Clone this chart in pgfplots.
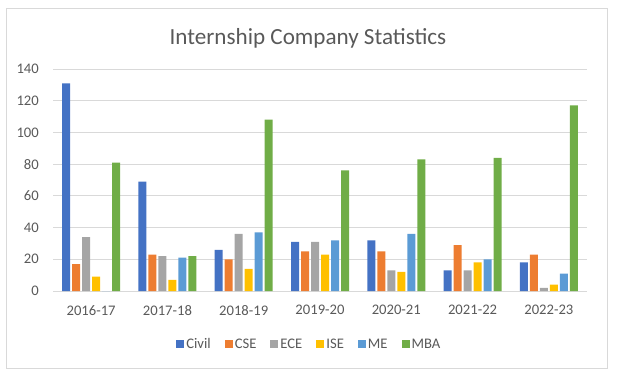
\documentclass[border=0pt]{standalone}
\usepackage{pgfplots}
\pgfplotsset{compat=1.18}
\usepackage{fontspec}
\setmainfont{Carlito}
\definecolor{cCivil}{HTML}{4472C4}
\definecolor{cCSE}{HTML}{ED7D31}
\definecolor{cECE}{HTML}{A5A5A5}
\definecolor{cISE}{HTML}{FFC000}
\definecolor{cME}{HTML}{5B9BD5}
\definecolor{cMBA}{HTML}{70AD47}
\definecolor{txtc}{HTML}{595959}
\definecolor{gridc}{HTML}{D9D9D9}
\begin{document}
\begin{tikzpicture}[x=1bp,y=1bp]
\path[use as bounding box] (0,0) rectangle (618,376);
\draw[gridc,line width=0.75bp] (6,8) rectangle (607,368);
\node[text=txtc,font=\fontsize{23.2}{26}\selectfont] at (308,338) {Internship Company Statistics};
\begin{axis}[
  at={(53bp,85bp)}, anchor=south west,
  scale only axis, width=534bp, height=222bp,
  ybar=2bp, bar width=8bp,
  xmin=-0.5, xmax=6.5, ymin=0, ymax=140,
  xtick={0,1,2,3,4,5,6},
  xticklabels={2016-17,2017-18,2018-19,2019-20,2020-21,2021-22,2022-23},
  ytick={0,20,40,60,80,100,120,140},
  axis x line*=bottom, axis y line*=left,
  x axis line style={draw=gridc,line width=0.75bp,-},
  y axis line style={draw=none,-},
  xmajorgrids=false, xminorgrids=false, ymajorgrids=true,
  major x grid style={draw=none}, minor x grid style={draw=none},
  major y grid style={draw=gridc,line width=0.75bp},
  xtick style={draw=none}, ytick style={draw=none},
  major tick length=0pt, minor tick num=0,
  tick label style={text=txtc,font=\fontsize{14.7}{16}\selectfont,inner sep=0pt},
  yticklabel style={anchor=east,xshift=-14bp},
  xticklabel style={anchor=north,yshift=-14bp},
  /pgf/number format/assume math mode=true,
  legend columns=6,
  legend style={draw=none,fill=none,at={(0.48,-0.239)},anchor=center,
    font=\fontsize{14.7}{16}\selectfont,text=txtc,
    /tikz/every even column/.append style={column sep=12bp},
    inner sep=0pt},
  legend image code/.code={\fill[#1] (0bp,-4bp) rectangle (8bp,4bp);},
  clip=false,
]
\addplot[fill=cCivil,draw=none] coordinates {(0,131) (1,69) (2,26) (3,31) (4,32) (5,13) (6,18)};
\addplot[fill=cCSE,draw=none] coordinates {(0,17) (1,23) (2,20) (3,25) (4,25) (5,29) (6,23)};
\addplot[fill=cECE,draw=none] coordinates {(0,34) (1,22) (2,36) (3,31) (4,13) (5,13) (6,2)};
\addplot[fill=cISE,draw=none] coordinates {(0,9) (1,7) (2,14) (3,23) (4,12) (5,18) (6,4)};
\addplot[fill=cME,draw=none] coordinates {(0,0) (1,21) (2,37) (3,32) (4,36) (5,20) (6,11)};
\addplot[fill=cMBA,draw=none] coordinates {(0,81) (1,22) (2,108) (3,76) (4,83) (5,84) (6,117)};
\legend{Civil,CSE,ECE,ISE,ME,MBA}
\end{axis}
\end{tikzpicture}
\end{document}
